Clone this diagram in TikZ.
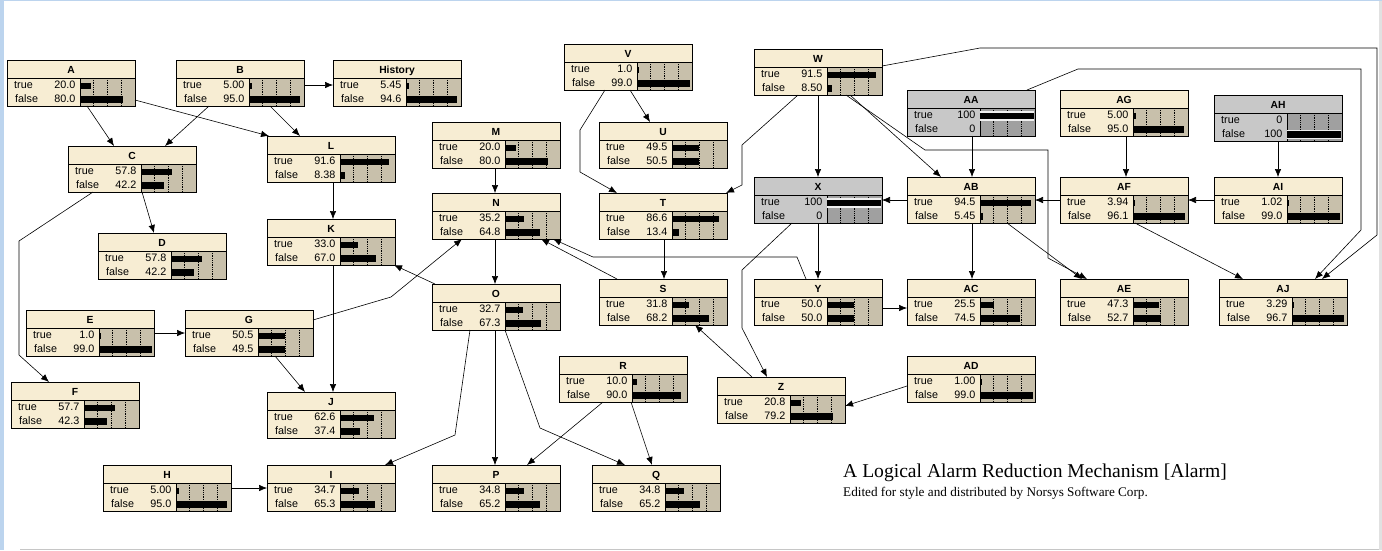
\documentclass[tikz,border=0pt]{standalone}
\usepackage{fontspec}
\setmainfont{Liberation Sans}
\newfontfamily\titlefont{Liberation Serif}
\usetikzlibrary{arrows.meta}
\definecolor{hdrcol}{RGB}{247,237,211}
\definecolor{barcol}{RGB}{200,192,171}
\definecolor{gcol}{RGB}{200,200,200}
\definecolor{gbar}{RGB}{160,160,160}
\definecolor{bluestrip}{RGB}{188,212,238}
\definecolor{edgegray}{RGB}{225,225,225}

\tikzset{
  hdrn/.style={fill=hdrcol}, hdrg/.style={fill=gcol},
  barn/.style={fill=barcol}, barg/.style={fill=gbar},
  halon/.style={}, halog/.style={fill=gray!12},
  bnbox/.style={draw, line width=0.9pt, minimum width=128pt, minimum height=46pt,
    inner sep=0pt, outer sep=0pt, anchor=north west},
  conn/.style={line width=0.6pt, -{Latex[length=8pt,width=6.5pt]}},
  lbl/.style={font=\fontsize{10.8}{12}\selectfont, inner sep=0pt},
  ttl/.style={font=\fontsize{10.3}{12}\selectfont\bfseries, inner sep=0pt},
}

% #1 kind (n/g), #2 name, #3 x, #4 y, #5 title, #6 true value, #7 false value
\newcommand{\bn}[7][n]{%
  \begin{scope}[shift={(#3,#4)}]
    \path[hdr#1] (0,0) rectangle (128,46);
    \path[bar#1] (73,18) rectangle (128,46);
    \draw[line width=0.6pt] (0,18) -- (128,18) (73,18) -- (73,46);
    \foreach \q in {13.75,27.5,41.25}
      \draw[densely dotted, line width=0.8pt] (73+\q,18) -- (73+\q,46);
    \pgfmathsetmacro\bnlt{#6>0 ? max(#6*0.54,1.5) : 0}
    \pgfmathsetmacro\bnlf{#7>0 ? max(#7*0.54,1.5) : 0}
    \ifdim\bnlt pt>0pt
      \path[halo#1] (73,21) rectangle ++(\bnlt,9.5);
      \fill (73,22.5) rectangle ++(\bnlt,6.5);
    \fi
    \ifdim\bnlf pt>0pt
      \path[halo#1] (73,34.5) rectangle ++(\bnlf,9.5);
      \fill (73,36) rectangle ++(\bnlf,6.5);
    \fi
    \node[lbl, anchor=base west] at (7,28.5) {true};
    \node[lbl, anchor=base west] at (8,42) {false};
    \node[lbl, anchor=base east] at (68.5,28.5) {#6};
    \node[lbl, anchor=base east] at (68.5,42) {#7};
    \node[ttl, anchor=base] at (64,13.5) {#5};
    \node[bnbox] (#2) at (0,0) {};
  \end{scope}}

\begin{document}
\begin{tikzpicture}[x=1pt, y=-1pt]
\useasboundingbox (0,0) rectangle (1382,550);
\fill[white] (0,0) rectangle (1382,550);
\fill[bluestrip] (0,0) rectangle (4,550);
\fill[bluestrip] (0,0) rectangle (1382,1.2);
\fill[edgegray] (1379,1.2) rectangle (1382,550);
\fill[gray!45] (20,548.5) rectangle (1379,550);

% nodes
\bn{A}{7}{60}{A}{20.0}{80.0}
\bn{B}{176}{60}{B}{5.00}{95.0}
\bn{History}{333}{60}{History}{5.45}{94.6}
\bn{C}{68}{146}{C}{57.8}{42.2}
\bn{L}{267}{136}{L}{91.6}{8.38}
\bn{D}{98}{233}{D}{57.8}{42.2}
\bn{K}{267}{219}{K}{33.0}{67.0}
\bn{E}{26}{310}{E}{1.0}{99.0}
\bn{G}{185}{310}{G}{50.5}{49.5}
\bn{F}{11}{382}{F}{57.7}{42.3}
\bn{J}{267}{392}{J}{62.6}{37.4}
\bn{M}{432}{122}{M}{20.0}{80.0}
\bn{N}{432}{193}{N}{35.2}{64.8}
\bn{O}{432}{284}{O}{32.7}{67.3}
\bn{V}{564}{44}{V}{1.0}{99.0}
\bn{U}{599}{122}{U}{49.5}{50.5}
\bn{T}{599}{193}{T}{86.6}{13.4}
\bn{S}{599}{279}{S}{31.8}{68.2}
\bn{R}{559}{356}{R}{10.0}{90.0}
\bn{P}{432}{465}{P}{34.8}{65.2}
\bn{Q}{592}{465}{Q}{34.8}{65.2}
\bn{I}{267}{465}{I}{34.7}{65.3}
\bn{H}{103}{465}{H}{5.00}{95.0}
\bn{W}{754}{49}{W}{91.5}{8.50}
\bn[g]{AA}{907}{90}{AA}{100}{0}
\bn{AG}{1060}{90}{AG}{5.00}{95.0}
\bn[g]{AH}{1214}{95}{AH}{0}{100}
\bn[g]{X}{754}{177}{X}{100}{0}
\bn{AB}{907}{177}{AB}{94.5}{5.45}
\bn{AF}{1060}{177}{AF}{3.94}{96.1}
\bn{AI}{1214}{177}{AI}{1.02}{99.0}
\bn{Y}{754}{279}{Y}{50.0}{50.0}
\bn{AC}{907}{279}{AC}{25.5}{74.5}
\bn{AE}{1060}{279}{AE}{47.3}{52.7}
\bn{AJ}{1219}{279}{AJ}{3.29}{96.7}
\bn{Z}{717}{377}{Z}{20.8}{79.2}
\bn{AD}{907}{356}{AD}{1.00}{99.0}

% connectors
\draw[conn] ([xshift=80pt]A.south west) -- ([xshift=46pt]C.north west);
\draw[conn] ([xshift=33pt]B.south west) -- ([xshift=97pt]C.north west);
\draw[conn] ([yshift=6pt]A.south east) -- ([xshift=2pt]L.north west);
\draw[conn] ([xshift=94pt]B.south west) -- ([xshift=33pt]L.north west);
\draw[conn] ([yshift=-2pt]B.east) -- ([yshift=-2pt]History.west);
\draw[conn] ([xshift=74pt]C.south west) -- ([xshift=56pt]D.north west);
\draw[conn] ([xshift=25pt]C.south west) -- (19,241) -- (19,355) -- ([xshift=38pt]F.north west);
\draw[conn] (E.east) -- (G.west);
\draw[conn] ([xshift=90pt]G.south west) -- ([xshift=38pt]J.north west);
\draw[conn] ([xshift=66pt]K.south west) -- ([xshift=66pt]J.north west);
\draw[conn] ([xshift=66pt]L.south west) -- ([xshift=66pt]K.north west);
\draw[conn] ([yshift=-10pt]G.north east) -- (391,297) -- ([xshift=30pt]N.south west);
\draw[conn] ([xshift=3pt]O.north west) -- ([xshift=-1pt]K.south east);
\draw[conn] ([xshift=63pt]M.south west) -- ([xshift=63pt]N.north west);
\draw[conn] ([xshift=63pt]N.south west) -- ([xshift=63pt]O.north west);
\draw[conn] ([xshift=18pt]S.north west) -- ([xshift=109pt]N.south west);
\draw[conn] ([xshift=52pt]Y.north west) -- (797,257) -- (593,257) -- ([xshift=121pt]N.south west);
\draw[conn] ([xshift=66pt]V.south west) -- ([xshift=51pt]U.north west);
\draw[conn] ([xshift=41pt]V.south west) -- (580,130) -- (580,172) -- ([xshift=18pt]T.north west);
\draw[conn] ([xshift=44pt]W.south west) -- (742,145) -- (742,185) -- ([xshift=127pt]T.north west);
\draw[conn] ([xshift=64pt]W.south west) -- ([xshift=64pt]X.north west);
\draw[conn] ([xshift=96pt]W.south west) -- ([xshift=34pt]AB.north west);
\draw[conn] ([xshift=92pt]W.south west) -- (925,150) -- (1048,150) -- (1048,258) -- ([xshift=27pt]AE.north west);
\draw[conn] ([yshift=-17pt]W.north east) -- (980,48) -- (1377,48) -- (1377,235) -- ([xshift=103pt]AJ.north west);
\draw[conn] ([xshift=120pt]AA.north west) -- (1078,69) -- (1361,69) -- (1361,230) -- ([xshift=96pt]AJ.north west);
\draw[conn] ([xshift=65pt]AA.south west) -- ([xshift=65pt]AB.north west);
\draw[conn] ([xshift=66pt]AG.south west) -- ([xshift=66pt]AF.north west);
\draw[conn] ([xshift=64pt]AH.south west) -- ([xshift=64pt]AI.north west);
\draw[conn] (AI.west) -- (AF.east);
\draw[conn] (AF.west) -- (AB.east);
\draw[conn] (AB.west) -- (X.east);
\draw[conn] ([xshift=65pt]AB.south west) -- ([xshift=65pt]AC.north west);
\draw[conn] ([xshift=100pt]AB.south west) -- ([xshift=22pt]AE.north west);
\draw[conn] ([xshift=75pt]AF.south west) -- ([xshift=24pt]AJ.north west);
\draw[conn] ([xshift=64pt]X.south west) -- ([xshift=64pt]Y.north west);
\draw[conn] ([xshift=38pt]X.south west) -- (742,270) -- (742,328) -- ([xshift=50pt]Z.north west);
\draw[conn] ([yshift=-6pt]Y.east) -- ([yshift=-6pt]AC.west);
\draw[conn] ([xshift=35pt]Z.north west) -- ([xshift=96pt]S.south west);
\draw[conn] ([yshift=-7pt]AD.west) -- ([yshift=-6pt]Z.east);
\draw[conn] ([xshift=65pt]T.south west) -- ([xshift=65pt]S.north west);
\draw[conn] ([xshift=38pt]O.south west) -- (455,435) -- ([xshift=118pt]I.north west);
\draw[conn] ([xshift=63pt]O.south west) -- ([xshift=63pt]P.north west);
\draw[conn] ([xshift=73pt]O.south west) -- (540,428) -- ([xshift=33pt]Q.north west);
\draw[conn] ([xshift=44pt]R.south west) -- ([xshift=95pt]P.north west);
\draw[conn] ([xshift=72pt]R.south west) -- ([xshift=60pt]Q.north west);
\draw[conn] (H.east) -- (I.west);

% title
\node[anchor=base west, inner sep=0pt, font=\titlefont\fontsize{19.6}{22}\selectfont] (title) at (843,477) {A Logical Alarm Reduction Mechanism [Alarm]};
\node[anchor=base west, inner sep=0pt, font=\titlefont\fontsize{13.2}{14}\selectfont] (subtitle) at (843,496) {Edited for style and distributed by Norsys Software Corp.};
\end{tikzpicture}
\end{document}
